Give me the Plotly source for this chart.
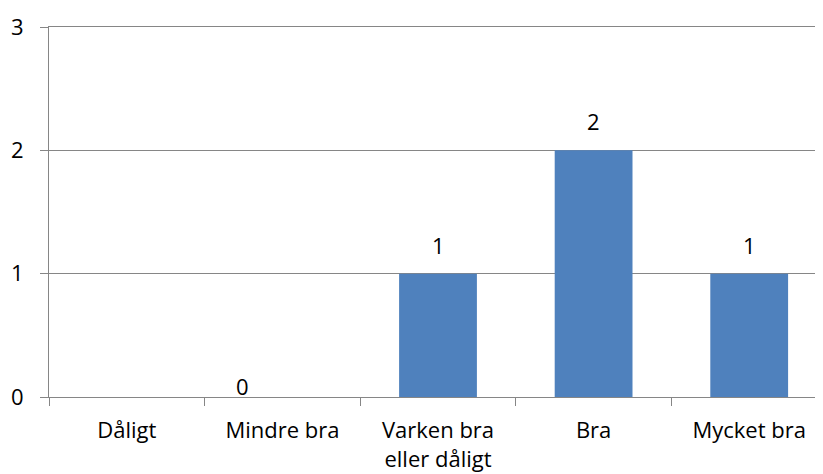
import plotly.graph_objects as go

categories = ["Dåligt", "Mindre bra", "Varken bra<br>eller dåligt", "Bra", "Mycket bra"]
values = [None, 0, 1, 2, 1]
labels = ["", "0", "1", "2", "1"]
y_ticks = [0, 1, 2, 3]

grid = "#868686"
fnt = dict(family="Open Sans", size=22, color="#000000")

fig = go.Figure()
fig.add_trace(go.Bar(
    x=categories, y=values, marker=dict(color="#4F81BD", line=dict(width=0)),
    width=0.5, hoverinfo="skip",
))
for c, v, t in zip(categories, values, labels):
    if v is None or t == "":
        continue
    fig.add_annotation(x=c, y=v, text=t, showarrow=False, yanchor="bottom",
                       xshift=-40 if v == 0 else 0, yshift=-6 if v == 0 else 12, font=fnt)

fig.update_layout(
    width=823, height=474,
    margin=dict(l=41, r=4, t=19, b=85),
    plot_bgcolor="white", paper_bgcolor="white",
    showlegend=False, font=fnt,
    xaxis=dict(range=[-0.5, 4.5], showline=True, linecolor=grid, linewidth=1,
               mirror=True,
               ticks="outside", tickson="boundaries", ticklen=8, tickcolor=grid,
               showgrid=False, tickfont=fnt, fixedrange=True, automargin=False,
               ticklabelstandoff=14),
    yaxis=dict(range=[0, 3], tickvals=y_ticks, showline=True, linecolor=grid, linewidth=1,
               ticks="outside", ticklen=8, tickcolor=grid, showgrid=True,
               gridcolor=grid, gridwidth=1, tickfont=fnt, zeroline=False,
               ticklabelstandoff=12, fixedrange=True, automargin=False),
)
fig.write_html("out.html")
